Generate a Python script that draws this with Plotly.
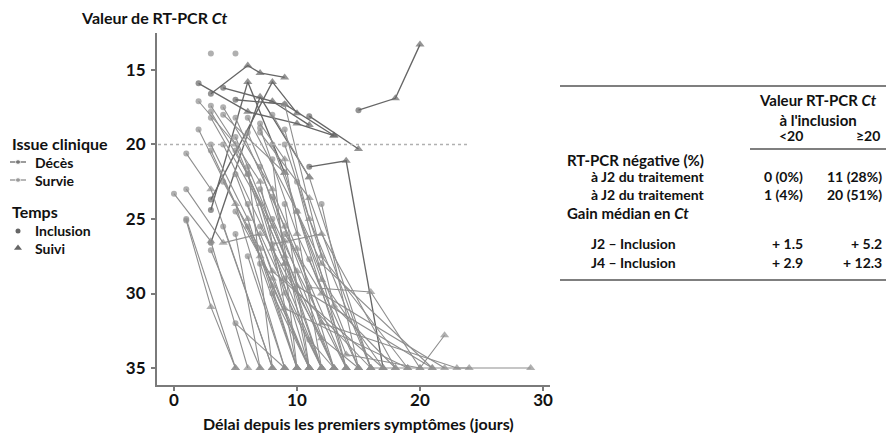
import plotly.graph_objects as go

W, H = 886, 439

# ---------------- data ----------------
# each patient: outcome, days since symptoms, RT-PCR Ct values (first = inclusion, others = follow-up)
patient_outcome = [
    "D", "D", "D", "D", "D", "D", "D", "D", "D", "D",
    "S", "S", "S",
    "S", "S", "S", "S", "S", "S", "S", "S", "S", "S",
    "S", "S", "S", "S", "S", "S", "S", "S", "S", "S",
    "S", "S", "S", "S", "S", "S", "S", "S", "S", "S",
    "S", "S", "S", "S", "S", "S", "S", "S", "S", "S",
    "S", "S", "S", "S", "S", "S", "S", "S", "S", "S",
    "S", "S", "S", "S", "S", "S", "S", "S",
]
patient_days = [
    [3, 6, 7, 9], [2, 6, 10, 13], [3, 8, 10], [4, 8, 11], [15, 18, 20],
    [11, 15], [5, 9, 13], [3, 6, 9], [3, 7, 11], [11, 14, 17],
    [3], [5], [12],
    [0, 3, 6], [1, 3, 5], [1, 5], [1, 3, 8], [1, 4, 7, 12], [3, 7], [5, 9],
    [2, 5, 9], [3, 6, 10], [3, 7, 11], [4, 8, 12], [5, 8, 13], [2, 5, 9, 13],
    [3, 7, 10], [4, 8, 11], [3, 6, 9, 12], [3, 7, 11], [4, 9, 14], [5, 9, 14],
    [6, 10, 15], [7, 9, 12], [7, 10, 15], [7, 11, 16], [8, 11, 16], [8, 12, 17],
    [6, 10, 13], [9, 13, 18], [11, 16, 20, 22], [8, 12, 18], [11, 14, 20],
    [11, 13], [9, 12, 22], [7, 10, 21], [6, 9, 19], [5, 8, 17], [8, 12, 23, 24],
    [9, 16, 29], [7, 10], [6, 9], [8, 11], [9, 11], [10, 14], [12, 15],
    [7, 12, 15], [6, 8], [5, 7], [4, 8], [8, 10], [9, 12, 19], [10, 12, 21],
    [4, 7, 10], [5, 8, 11], [6, 9, 12], [7, 9, 13], [8, 10, 14], [6, 8, 11], [9, 11, 16], [5, 9, 12],
]
patient_ct = [
    [16.6, 14.7, 15.2, 15.5], [15.9, 17.8, 18.6, 19.4], [23.7, 15.8, 17.9], [16.2, 17.1, 18.7], [17.7, 16.9, 13.3],
    [18.1, 20.3], [17.0, 17.3, 19.4], [24.4, 15.8, 21.9], [26.6, 16.8, 22.2], [21.5, 21.1, 35],
    [13.9], [13.9], [12.2],
    [23.3, 26.5, 35], [25.1, 30.9, 35], [25.0, 35], [20.6, 23.0, 35], [23.0, 26.6, 26.0, 35], [27.1, 35], [32.0, 35],
    [19.0, 24.0, 35], [20.0, 25.0, 35], [20.4, 27.5, 35], [20.0, 27.0, 35], [20.4, 25.5, 35], [17.1, 20.0, 28.0, 35],
    [17.4, 22.5, 35], [17.5, 23.0, 35], [17.8, 22.0, 30.0, 35], [18.2, 24.0, 35], [18.0, 21.9, 35], [18.2, 25.5, 35],
    [18.2, 24.5, 35], [18.6, 21.0, 35], [18.9, 26.0, 35], [19.2, 23.6, 35], [18.0, 22.2, 35], [20.0, 29.1, 35],
    [19.2, 27.0, 35], [17.3, 30.8, 35], [29.6, 29.9, 35, 32.8], [26.7, 26.0, 35], [27.7, 34.1, 35],
    [33.1, 35], [26.0, 30.0, 35], [23.0, 29.5, 35], [24.0, 31.0, 35], [22.0, 28.5, 35], [23.5, 32.0, 35, 35],
    [29.0, 35, 35], [28.0, 35], [27.5, 35], [30.0, 35], [24.0, 35], [22.5, 35], [24.0, 35],
    [25.5, 33.0, 35], [21.5, 35], [26.0, 35], [25.5, 35], [21.0, 35], [20.0, 27.5, 35], [24.5, 28.0, 35],
    [22.5, 27.0, 35], [24.5, 29.0, 35], [22.0, 28.0, 35], [21.5, 26.5, 35], [25.0, 28.5, 35], [25.5, 29.5, 35],
    [19.0, 25.0, 35], [19.5, 27.5, 35],
]

x_ticks = [0, 10, 20, 30]
y_ticks = [15, 20, 25, 30, 35]
threshold_ct = 20

table_col_heads = ["<20", "≥20"]
table_rows = [
    ("head", "RT-PCR négative (%)", None, None),
    ("sub", "à J2 du traitement", "0 (0%)", "11 (28%)"),
    ("sub", "à J2 du traitement", "1 (4%)", "20 (51%)"),
    ("head", "Gain médian en <i>Ct</i>", None, None),
    ("sub", "J2 – Inclusion", "+ 1.5", "+ 5.2"),
    ("sub", "J4 – Inclusion", "+ 2.9", "+ 12.3"),
]

# ---------------- style ----------------
FONT = "Lato"
DARK = "#666666"
LIGHT = "#8e8e8e"
AX = "#7a7a7a"


def X(px):
    return px / W


def Y(py):
    return 1 - py / H


fig = go.Figure()

for out, d, c in zip(patient_outcome, patient_days, patient_ct):
    col = DARK if out == "D" else LIGHT
    syms = ["circle"] + ["triangle-up"] * (len(d) - 1)
    sizes = [6] + [8] * (len(d) - 1)
    fig.add_trace(go.Scatter(
        x=d, y=c, mode="lines+markers",
        line=dict(color=col, width=1.35 if out == "D" else 1.1),
        marker=dict(symbol=syms, size=sizes, color=col, line=dict(width=0)),
        showlegend=False, hoverinfo="skip", cliponaxis=False,
    ))

# legend glyphs on an overlay pixel axis
leg = dict(xaxis="x2", yaxis="y2", showlegend=False, hoverinfo="skip")
fig.add_trace(go.Scatter(x=[10, 18, 26], y=[162, 162, 162], mode="lines+markers",
                         line=dict(color=DARK, width=1.3),
                         marker=dict(size=[0, 5, 0], color=DARK), **leg))
fig.add_trace(go.Scatter(x=[10, 18, 26], y=[180, 180, 180], mode="lines+markers",
                         line=dict(color=LIGHT, width=1.3),
                         marker=dict(size=[0, 5, 0], color=LIGHT), **leg))
fig.add_trace(go.Scatter(x=[18], y=[231], mode="markers",
                         marker=dict(symbol="circle", size=5, color="#666"), **leg))
fig.add_trace(go.Scatter(x=[18], y=[248], mode="markers",
                         marker=dict(symbol="triangle-up", size=7, color="#666"), **leg))

# threshold line
fig.add_shape(type="line", xref="paper", yref="y", x0=X(158), x1=X(467),
              y0=threshold_ct, y1=threshold_ct,
              line=dict(color="#b0b0b0", width=1.5, dash="dot"))

ann = []


def text(px, py, s, size=14, xanchor="left", bold=True):
    ann.append(dict(x=X(px), y=Y(py), xref="paper", yref="paper", text=(f"<b>{s}</b>" if bold else s),
                    showarrow=False, xanchor=xanchor, yanchor="middle",
                    font=dict(family=FONT, size=size, color="#111")))


# titles
text(79, 18, "Valeur de RT-PCR <i>Ct</i>", size=16)
text(358, 423, "Délai depuis les premiers symptômes (jours)", size=16, xanchor="center")

# legend texts
text(10, 143, "Issue clinique", size=16)
text(33, 162, "Décès", size=14)
text(33, 180, "Survie", size=14)
text(10, 212, "Temps", size=16)
text(33, 230, "Inclusion", size=14)
text(33, 248, "Suivi", size=14)

# table
ann.append(dict(x=X(818), y=Y(110), xref="paper", yref="paper",
                text="<b>Valeur RT-PCR <i>Ct</i></b><br><b>à l'inclusion</b>",
                showarrow=False, xanchor="center", yanchor="middle", align="center",
                font=dict(family=FONT, size=15, color="#111")))
text(805, 135, table_col_heads[0], size=14, xanchor="right")
text(882, 135, table_col_heads[1], size=14, xanchor="right")
row_y = [160, 177, 194, 213, 243, 262]
for (kind, label, v1, v2), ry in zip(table_rows, row_y):
    if kind == "head":
        text(565, ry, label, size=15)
    else:
        text(589, ry, label, size=14)
        text(805, ry, v1, size=14, xanchor="right")
        text(884, ry, v2, size=14, xanchor="right")

for (x0, x1, py) in [(560, 886, 86), (750, 886, 149), (560, 886, 280)]:
    fig.add_shape(type="line", xref="paper", yref="paper", x0=X(x0), x1=X(x1), y0=Y(py), y1=Y(py),
                  line=dict(color="#555", width=1.5))

axis_common = dict(showgrid=False, zeroline=False, showline=True, linecolor=AX, linewidth=2,
                   ticks="outside", ticklen=4, tickwidth=1.5, tickcolor=AX,
                   tickfont=dict(family=FONT, size=17, color="#111", weight="bold"))

fig.update_layout(
    width=W, height=H, margin=dict(l=0, r=0, t=0, b=0),
    paper_bgcolor="white", plot_bgcolor="rgba(0,0,0,0)",
    xaxis=dict(domain=[X(157), X(550)], range=[-1.38, 30.57], tickvals=x_ticks,
               anchor="y", automargin=False, ticklabelstandoff=-5, **axis_common),
    yaxis=dict(domain=[Y(385), Y(33)], range=[36.14, 12.52], tickvals=y_ticks,
               anchor="x", automargin=False, ticklabelstandoff=2, **axis_common),
    xaxis2=dict(domain=[0, 1], range=[0, W], visible=False, anchor="y2"),
    yaxis2=dict(domain=[0, 1], range=[H, 0], visible=False, anchor="x2"),
    annotations=ann,
    showlegend=False,
)

fig.write_html("out.html", config={"displayModeBar": False},
               post_script="document.body.style.margin='0';document.body.style.overflow='hidden';")
